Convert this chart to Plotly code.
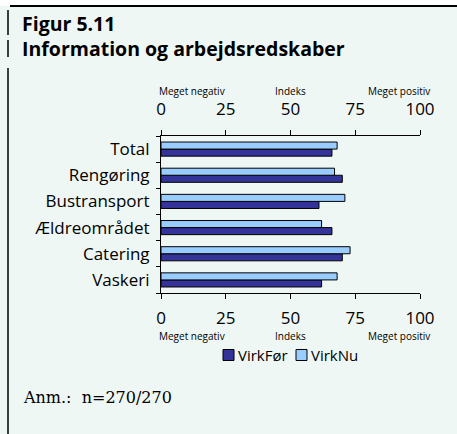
import plotly.graph_objects as go

categories = ["Total", "Rengøring", "Bustransport", "Ældreområdet", "Catering", "Vaskeri"]
virk_foer = [66, 70, 61, 66, 70, 62]
virk_nu = [68, 67, 71, 62, 73, 68]
tick_vals = [0, 25, 50, 75, 100]
tick_text = ["0", "25", "50", "75", "100"]
scale_labels = ["Meget negativ", "Indeks", "Meget positiv"]
series_names = ["VirkFør", "VirkNu"]
series_colors = ["#333399", "#99ccff"]

W, H = 457, 434
L, R, T, B = 161, 420, 136, 293
BG = "#eff7f5"

def px(x):
    return (x - L) / (R - L)

def py(y):
    return (B - y) / (B - T)

order = categories[::-1]

fig = go.Figure()
for name, vals, col in zip(series_names, [virk_foer, virk_nu], series_colors):
    fig.add_trace(go.Bar(y=categories, x=vals, orientation="h", name=name,
                         marker=dict(color=col, line=dict(color="#000000", width=1))))
fig.add_trace(go.Scatter(x=[0, 100], y=[categories[0], categories[0]], xaxis="x2",
                         mode="markers", marker=dict(opacity=0), showlegend=False, hoverinfo="skip"))

axis_common = dict(range=[0, 100], tickvals=tick_vals, ticktext=tick_text, showgrid=False,
                   zeroline=False, showline=True, linecolor="#000000", linewidth=1,
                   ticks="outside", ticklen=5, tickcolor="#000000", automargin=False,
                   tickfont=dict(family="Open Sans", size=17, color="#000000"), fixedrange=True)

fig.update_layout(
    width=W, height=H,
    margin=dict(l=L, r=W - R, t=T, b=H - B, autoexpand=False),
    paper_bgcolor=BG, plot_bgcolor=BG,
    barmode="group", bargap=0.46, bargroupgap=0,
    xaxis=dict(side="bottom", ticklabelstandoff=5, **axis_common),
    xaxis2=dict(side="top", overlaying="x", anchor="y", ticklabelstandoff=8, **axis_common),
    yaxis=dict(categoryorder="array", categoryarray=order, showline=True, linecolor="#000000",
               linewidth=1, ticks="outside", ticklen=4, tickcolor="#000000", tickson="boundaries",
               showgrid=False, automargin=False, ticklabelstandoff=7, fixedrange=True,
               tickfont=dict(family="Open Sans", size=17, color="#000000")),
    showlegend=False,
    font=dict(family="Open Sans", color="#000000"),
)

annotations = [
    dict(text="<b>Figur 5.11</b><br><b>Information og arbejdsredskaber</b>", x=px(20), y=py(36),
         xanchor="left", yanchor="middle", align="left", font=dict(size=19.5)),
    dict(text=scale_labels[0], x=px(157), y=py(91), xanchor="left", yanchor="middle", font=dict(size=10)),
    dict(text=scale_labels[1], x=px(290), y=py(91), xanchor="center", yanchor="middle", font=dict(size=10)),
    dict(text=scale_labels[2], x=px(432), y=py(91), xanchor="right", yanchor="middle", font=dict(size=10)),
    dict(text=scale_labels[0], x=px(157), y=py(335.5), xanchor="left", yanchor="middle", font=dict(size=10)),
    dict(text=scale_labels[1], x=px(290), y=py(335.5), xanchor="center", yanchor="middle", font=dict(size=10)),
    dict(text=scale_labels[2], x=px(432), y=py(335.5), xanchor="right", yanchor="middle", font=dict(size=10)),
    dict(text=series_names[0], x=px(236), y=py(355), xanchor="left", yanchor="middle", font=dict(size=15)),
    dict(text=series_names[1], x=px(309), y=py(355), xanchor="left", yanchor="middle", font=dict(size=15)),
    dict(text="Anm.:  n=270/270", x=px(21), y=py(397), xanchor="left", yanchor="middle",
         font=dict(size=16, family="DejaVu Serif")),
]
for a in annotations:
    a.update(xref="paper", yref="paper", showarrow=False)
    a["font"].setdefault("color", "#000000")
    a["font"].setdefault("family", "Open Sans")
fig.update_layout(annotations=annotations)

shapes = [
    dict(type="rect", x0=px(0), x1=px(W), y0=py(0), y1=py(6), fillcolor="#ffffff", line=dict(width=0)),
    dict(type="line", x0=px(10), x1=px(W), y0=py(6), y1=py(6), line=dict(color="#000000", width=2)),
    dict(type="line", x0=px(8), x1=px(8), y0=py(10), y1=py(35), line=dict(color="#000000", width=1.5)),
    dict(type="line", x0=px(8), x1=px(8), y0=py(40), y1=py(57), line=dict(color="#000000", width=1.5)),
    dict(type="line", x0=px(8), x1=px(8), y0=py(68), y1=py(H), line=dict(color="#000000", width=1.5)),
    dict(type="rect", x0=px(223), x1=px(234), y0=py(349.5), y1=py(360.5), fillcolor=series_colors[0],
         line=dict(color="#000000", width=1)),
    dict(type="rect", x0=px(296), x1=px(307), y0=py(349.5), y1=py(360.5), fillcolor=series_colors[1],
         line=dict(color="#000000", width=1)),
]
for s in shapes:
    s.update(xref="paper", yref="paper", layer="below")
fig.update_layout(shapes=shapes)

fig.write_html("out.html", config={"displayModeBar": False},
               post_script="document.body.style.margin='0';document.body.style.overflow='hidden';"
                           "document.body.style.background='" + BG + "';")
